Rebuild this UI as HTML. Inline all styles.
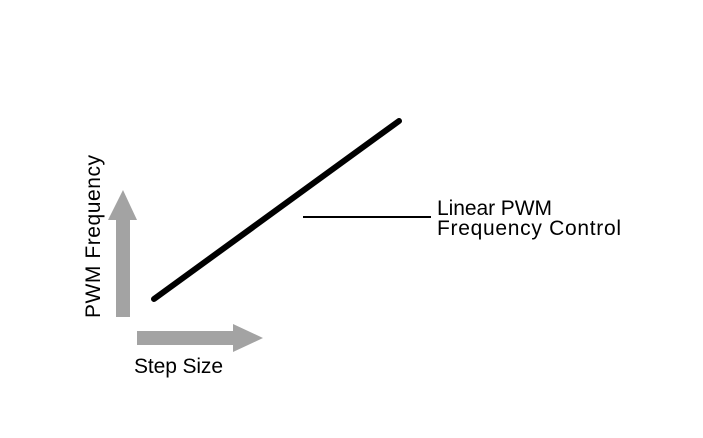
<!DOCTYPE html>
<html><head><style>
html,body{margin:0;padding:0;background:#fff;}
</style></head><body>
<svg width="703" height="433" viewBox="0 0 703 433" xmlns="http://www.w3.org/2000/svg">
<rect width="703" height="433" fill="#fff"/>
<polygon points="116,317 130,317 130,220 137,220 123,190 108,220 116,220" fill="#a3a3a3"/>
<polygon points="137,331 233,331 233,324 263,338 233,352 233,345 137,345" fill="#a3a3a3"/>
<line x1="154" y1="299" x2="399" y2="121" stroke="#000" stroke-width="6" stroke-linecap="round"/>
<line x1="303" y1="217" x2="431" y2="217" stroke="#000" stroke-width="2"/>
<g font-family="Liberation Sans, sans-serif" font-size="21" fill="#000">
<text x="437" y="215" textLength="115" lengthAdjust="spacing">Linear PWM</text>
<text x="437" y="235" textLength="184" lengthAdjust="spacing">Frequency Control</text>
<text x="134" y="373" textLength="89" lengthAdjust="spacing">Step Size</text>
<text transform="translate(100,318) rotate(-90)" textLength="163" lengthAdjust="spacing">PWM Frequency</text>
</g>
</svg>
</body></html>
